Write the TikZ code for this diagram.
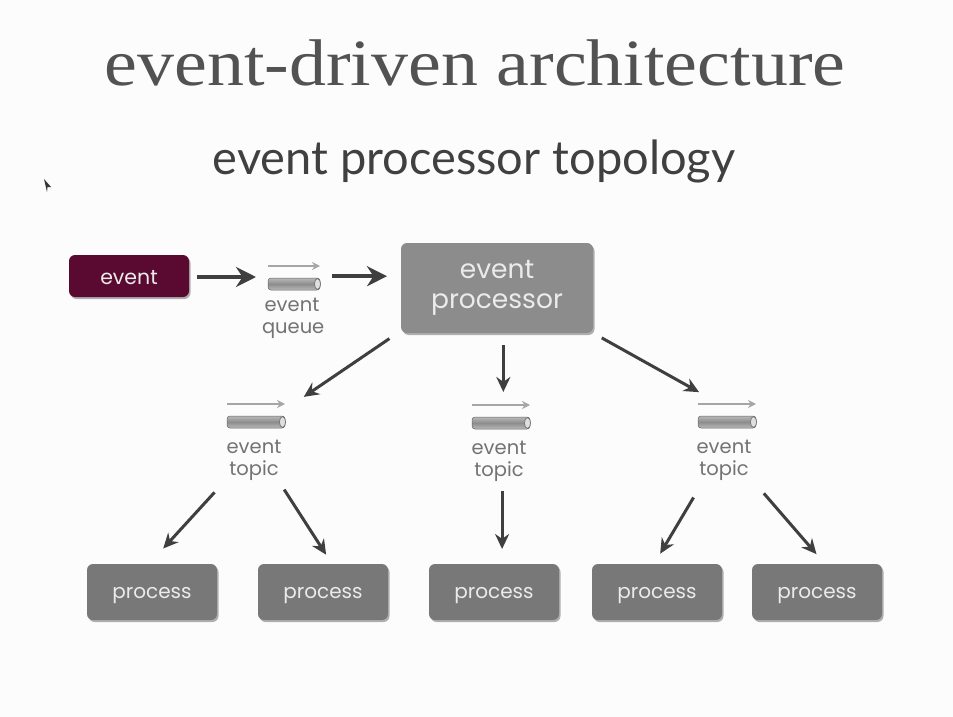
\documentclass[tikz,border=0pt]{standalone}
\usepackage{fontspec}
\usepackage{tikz}
\usetikzlibrary{arrows.meta,shadows}
\newfontfamily\labelfont{Poppins}
\newfontfamily\subfont{Lato}
\newfontfamily\titlefont[FakeStretch=1.12]{Liberation Serif}
\definecolor{eventred}{HTML}{5A0A30}
\definecolor{procgray}{HTML}{8C8C8C}
\definecolor{smallgray}{HTML}{787878}
\definecolor{inkgray}{HTML}{3F3F3F}
\tikzset{
  boxshadow/.style={drop shadow={shadow xshift=1.5pt,shadow yshift=-2pt,fill=black,opacity=0.3}},
  procbox/.style={draw=none, rounded corners=6pt, boxshadow, text=white!92!black, inner sep=0pt, outer sep=0pt},
  smallproc/.style={procbox, fill=smallgray, minimum width=130pt, minimum height=56pt, text height=15pt, text depth=2pt, font=\labelfont\fontsize{20}{24}\selectfont},
  bar/.style={rounded corners=3pt, top color=gray!55, bottom color=gray!55, middle color=gray!90, draw=gray!80!black, line width=0.5pt, inner sep=0pt, outer sep=0pt, minimum height=12pt},
  barlabel/.style={text=gray!90!black, align=center, text width=60pt, minimum height=44pt, inner sep=0pt, outer sep=0pt, font=\labelfont\fontsize{19.5}{22}\selectfont},
  flow/.style={-{Stealth[length=15pt,width=14pt]}, inkgray, line width=3pt},
  bigflow/.style={-{Stealth[length=20pt,width=20pt]}, inkgray, line width=4pt}
}
\begin{document}
\begin{tikzpicture}[x=1pt, y=-1pt]
    \fill[white!99!black] (0,0) rectangle (953,717);

    \node[text=black!68, font=\titlefont\fontsize{66}{76}\selectfont] (title) at (475,63) {event-driven architecture};
    \node[text=black!75, font=\subfont\fontsize{47}{52}\selectfont] (subtitle) at (474,161) {event processor topology};
    \fill[black!80] (44,179) -- (51,187) -- (47.5,187) -- (47,192) -- cycle;

    \node[procbox, fill=eventred, minimum width=120pt, minimum height=42pt, text height=17pt, text depth=0pt, font=\labelfont\fontsize{20.5}{24}\selectfont] (event) at (129,276) {event};
    \node[procbox, fill=procgray, minimum width=192pt, minimum height=90pt, align=center, font=\labelfont\fontsize{26.5}{30}\selectfont] (processor) at (497,288) {event\\processor};

    \node[bar, minimum width=52pt] (queuebar) at (294,284) {};
    \node[bar, minimum width=58pt] (topicA) at (256,422) {};
    \node[bar, minimum width=58pt] (topicB) at (501,423) {};
    \node[bar, minimum width=58pt] (topicC) at (727,422) {};

    \node[barlabel] (queuetxt) at (292,318) {event\\queue};
    \node[barlabel] (topicAtxt) at (254,460) {event\\topic};
    \node[barlabel] (topicBtxt) at (499,461) {event\\topic};
    \node[barlabel] (topicCtxt) at (724,460) {event\\topic};

    \foreach \b in {queuebar, topicA, topicB, topicC} {
        \fill[gray!25] (\b.east) ++(-2.5,0) ellipse (3pt and 5.5pt);
        \draw[gray!80!black, line width=0.6pt] (\b.east) ++(-2.5,0) ellipse (3pt and 5.5pt);
        \draw[-{Stealth[length=8pt,width=8pt]}, gray!70, line width=1.6pt] ([yshift=12pt]\b.north west) -- ([yshift=12pt]\b.north east);
    }

    \node[smallproc] (procA) at (152,592) {process};
    \node[smallproc] (procB) at (323,592) {process};
    \node[smallproc] (procC) at (494,592) {process};
    \node[smallproc] (procD) at (657,592) {process};
    \node[smallproc] (procE) at (817,592) {process};

    \draw[bigflow, shorten <=8pt, shorten >=12pt] ([yshift=-1pt]event.east) -- ([yshift=-1pt]event.east -| queuebar.west);
    \draw[bigflow, shorten <=12pt, shorten >=14pt] (queuebar.east |- processor.173) -- (processor.173);

    \draw[flow, shorten <=14pt, shorten >=34pt] (processor.204) -- (topicA.17);
    \draw[flow, shorten <=12pt, shorten >=25pt] (processor.278) -- (processor.278 |- topicB.north);
    \draw[flow, shorten <=10pt, shorten >=49pt] (processor.south east) -- (topicC.22);

    \draw[flow, shorten <=14pt, shorten >=21pt] (topicAtxt.south west) -- (procA.96);
    \draw[flow, shorten <=9pt, shorten >=11pt] (topicAtxt.-41) -- (procB.72);
    \draw[flow, shorten <=8pt, shorten >=15pt] (topicBtxt.-82) -- (topicBtxt.-82 |- procC.north);
    \draw[flow, shorten <=18pt, shorten >=12pt] (topicCtxt.226) -- (procD.96);
    \draw[flow, shorten <=15pt, shorten >=13pt] (topicCtxt.south east) -- (procE.74);
\end{tikzpicture}
\end{document}
